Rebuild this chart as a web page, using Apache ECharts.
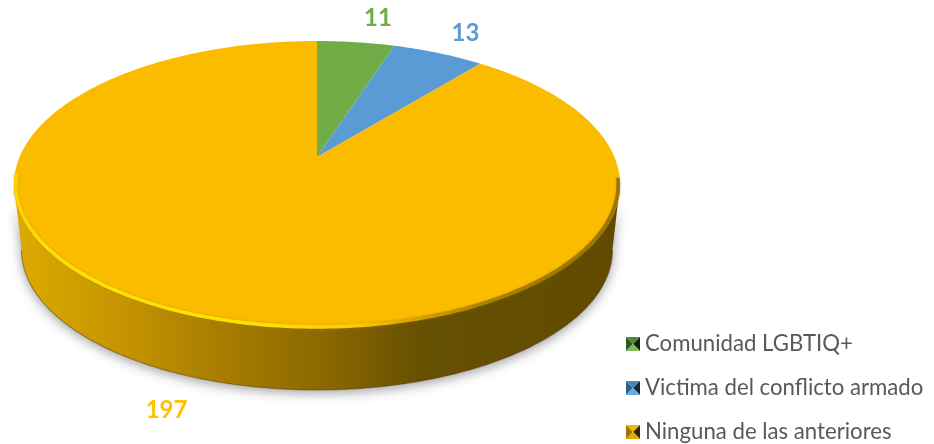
<!DOCTYPE html>
<html><head><meta charset="utf-8">
<style>html,body{margin:0;padding:0;background:#fff}#c{width:934px;height:444px}</style>
<script src="https://cdn.jsdelivr.net/npm/echarts@6/dist/echarts.min.js"></script>
</head><body><div id="c"></div>
<script>
const categories = ['Comunidad LGBTIQ+', 'Victima del conflicto armado', 'Ninguna de las anteriores'];
const values = [11, 13, 197];
const colors = ['#70AD47', '#5B9BD5', '#FBBC00'];
const labelColors = ['#70AD47', '#5B9BD5', '#FFC000'];
const labelOffsets = [[22, -24], [27, -20], [-29, 94]];
const bevels = [
  ['#4F8A33', '#2F5A1C', '#101F0A', '#7DBB5A'],
  ['#4A86C2', '#2E5F90', '#12283D', '#6FA9E2'],
  ['#F5B800', '#9E7600', '#332600', '#E0AA00']
];

// projected disc geometry
const CX = 317, CY = 157, A = 297.4, B = 138.2, K = 0.1916;
const DEPTH = 66.3, SHRINK = 0.975;
const WIDEST = 90 + Math.asin(K) * 180 / Math.PI;
const total = values.reduce((a, b) => a + b, 0);
const starts = values.map((_, i) => values.slice(0, i).reduce((a, b) => a + b, 0));

function rim(deg, scale) {
  const t = deg * Math.PI / 180, u = Math.sin(t), v = Math.cos(t), d = 1 + K * v;
  return [CX + scale * A * u / d, CY - scale * B * v / d];
}
function low(p) {
  return [CX + (p[0] - CX) * SHRINK, CY + (p[1] - CY) * SHRINK + DEPTH];
}
function arc(a0, a1, scale) {
  const out = [], n = Math.max(2, Math.ceil(Math.abs(a1 - a0)));
  for (let i = 0; i <= n; i++) out.push(rim(a0 + (a1 - a0) * i / n, scale));
  return out;
}
const SIDE = {type: 'linear', x: 0, y: 0, x2: 1, y2: 0, colorStops: [
  {offset: 0, color: '#DEAB00'}, {offset: .18, color: '#C49400'}, {offset: .36, color: '#A47A00'},
  {offset: .52, color: '#8A6700'}, {offset: .67, color: '#665000'}, {offset: 1, color: '#614A00'}]};
const EDGE = {type: 'linear', x: 0, y: 0, x2: 1, y2: 0, colorStops: [
  {offset: 0, color: '#FFD000'}, {offset: .05, color: '#FFE000'}, {offset: .42, color: '#FFE000'},
  {offset: .57, color: '#FFC800'}, {offset: .66, color: '#D8A200'}, {offset: .78, color: '#A88000'}, {offset: 1, color: '#9A7400'}]};

function renderItem(idx) {
  return function (params, api) {
    const a0 = api.value(1) / total * 360;
    const a1 = a0 + api.value(0) / total * 360;
    const children = [];
    const s0 = Math.max(a0, WIDEST), s1 = Math.min(a1, 360 - WIDEST);
    if (s1 > s0) {
      const top = arc(s0, s1, 1);
      const bottom = top.map(low);
      children.push({type: 'polygon', silent: true,
        shape: {points: top.concat(bottom.slice().reverse())},
        style: {fill: SIDE, shadowBlur: 12, shadowColor: 'rgba(0,0,0,.38)', shadowOffsetY: 3}});
      children.push({type: 'polyline', silent: true, shape: {points: bottom},
        style: {fill: 'none', stroke: 'rgba(80,55,0,.45)', lineWidth: 1.2}});
    }
    children.push({type: 'polygon', silent: true,
      shape: {points: [[CX, CY]].concat(arc(a0, a1, 1))},
      style: {fill: colors[idx]}});
    if (s1 > s0) {
      children.push({type: 'polyline', silent: true,
        shape: {points: arc(s0 - 2, s1 + 4, 0.994)},
        style: {fill: 'none', stroke: EDGE, lineWidth: 3.6, lineCap: 'round', shadowBlur: 3, shadowColor: 'rgba(170,130,0,.5)'}});
    }
    const mid = rim((a0 + a1) / 2, 1);
    children.push({type: 'text', silent: true,
      style: {x: mid[0] + labelOffsets[idx][0], y: mid[1] + labelOffsets[idx][1],
        text: String(api.value(0)), fill: labelColors[idx], align: 'center', verticalAlign: 'middle',
        font: 'bold 24px Lato'}});
    return {type: 'group', children};
  };
}
function swatch(c) {
  const svg = `<svg xmlns="http://www.w3.org/2000/svg" width="56" height="56" viewBox="0 0 14 14">` +
    `<polygon points="0,0 14,0 7,7" fill="${c[0]}"/><polygon points="0,0 7,7 0,14" fill="${c[1]}"/>` +
    `<polygon points="14,0 14,14 7,7" fill="${c[2]}"/><polygon points="0,14 14,14 7,7" fill="${c[3]}"/></svg>`;
  return 'image://data:image/svg+xml;charset=utf-8,' + encodeURIComponent(svg);
}
const chart = echarts.init(document.getElementById('c'), null, {renderer: 'canvas'});
chart.setOption({
  animation: false,
  backgroundColor: '#fff',
  legend: {
    orient: 'vertical', left: 626, top: 331, height: 200, padding: 0, itemWidth: 14, itemHeight: 14, itemGap: 18,
    selectedMode: false,
    textStyle: {fontFamily: 'Lato', fontSize: 22.2, color: '#595959', lineHeight: 26},
    data: categories.map((name, i) => ({name, icon: swatch(bevels[i])}))
  },
  series: categories.map((name, i) => ({
    type: 'custom', name, coordinateSystem: 'none', renderItem: renderItem(i),
    itemStyle: {color: colors[i]},
    data: [[values[i], starts[i]]]
  }))
});
</script></body></html>
